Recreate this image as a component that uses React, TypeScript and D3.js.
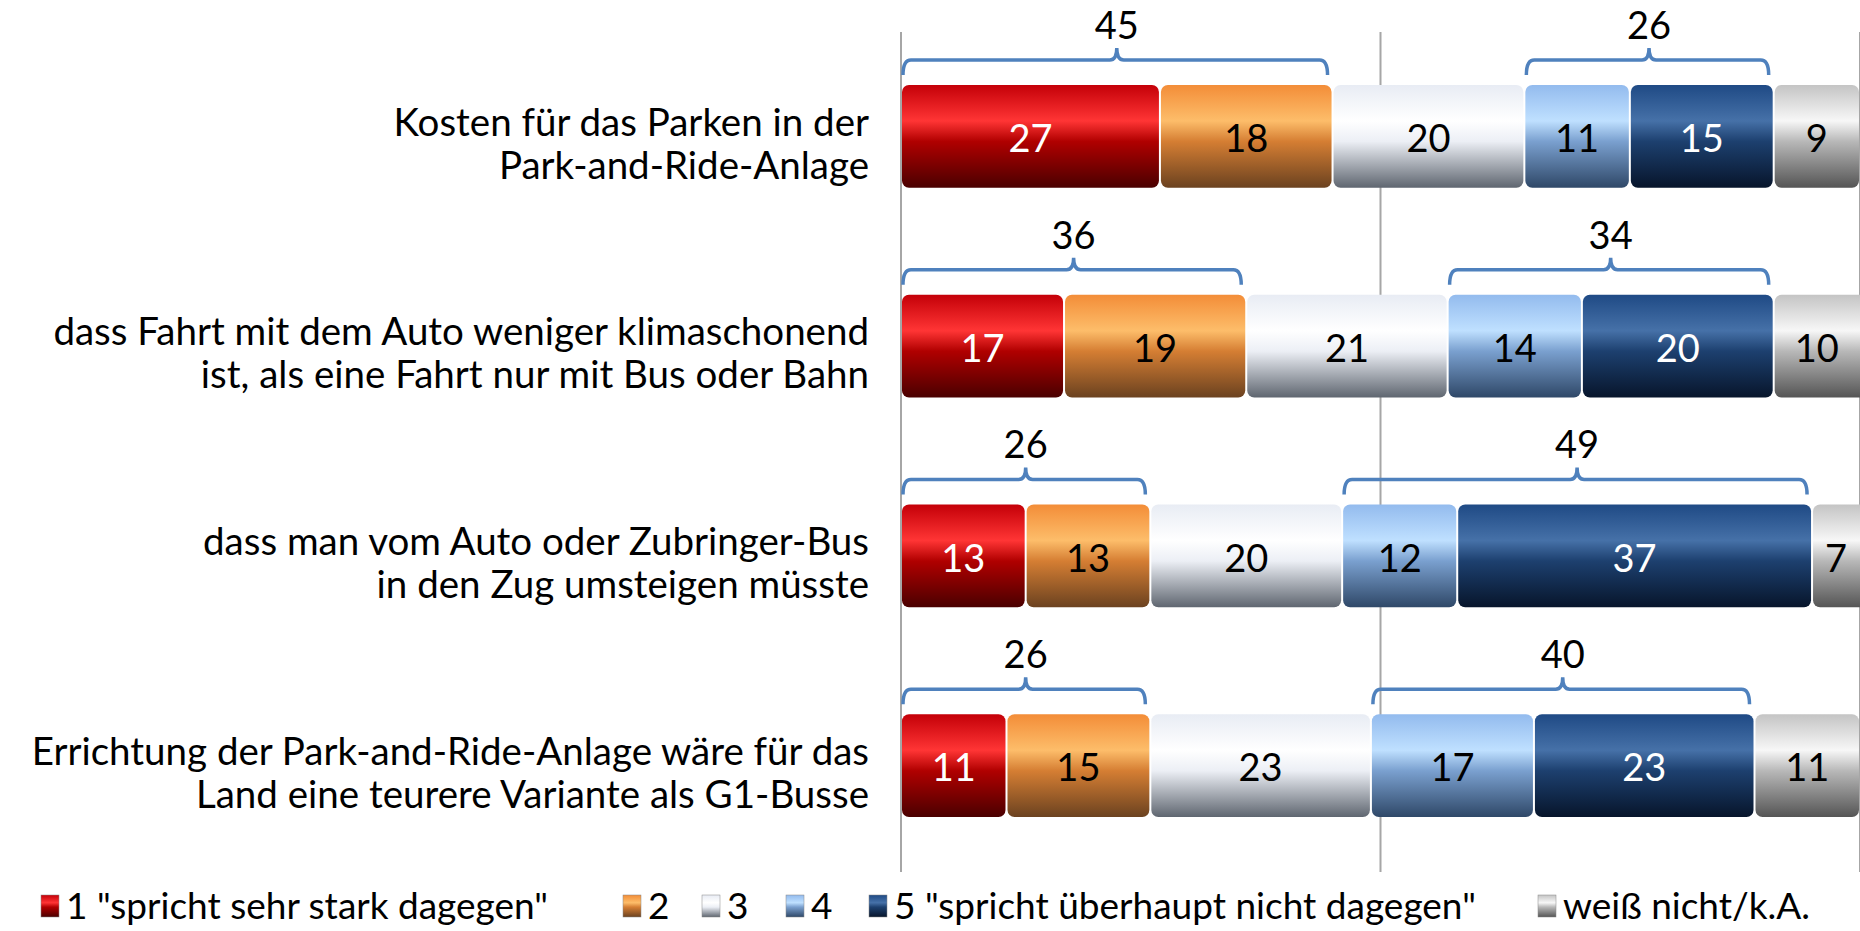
import React, { useEffect, useRef } from 'react';
import * as d3 from 'd3';

// categories (two lines each)
const categories: string[][] = [
  ['Kosten für das Parken in der', 'Park-and-Ride-Anlage'],
  ['dass Fahrt mit dem Auto weniger klimaschonend', 'ist, als eine Fahrt nur mit Bus oder Bahn'],
  ['dass man vom Auto oder Zubringer-Bus', 'in den Zug umsteigen müsste'],
  ['Errichtung der Park-and-Ride-Anlage wäre für das', 'Land eine teurere Variante als G1-Busse'],
];

const seriesNames = ['1 "spricht sehr stark dagegen"', '2', '3', '4', '5 "spricht überhaupt nicht dagegen"', 'weiß nicht/k.A.'];

// values per category, in series order
const s1 = [27, 17, 13, 11];
const s2 = [18, 19, 13, 15];
const s3 = [20, 21, 20, 23];
const s4 = [11, 14, 12, 17];
const s5 = [15, 20, 37, 23];
const s6 = [9, 10, 7, 11];

const gridTicks = [0, 50, 100];

// gradient stops per series: [top, highlight, mid, bottom]
const gradients = [
  ['#c40008', '#ff3535', '#b00000', '#4a0000'],
  ['#f38d38', '#fdbd6a', '#d57e33', '#6b4220'],
  ['#e8ecf4', '#ffffff', '#eceff5', '#5f6670'],
  ['#93bbee', '#bfe0ff', '#7aa0cf', '#2f4868'],
  ['#1f4a85', '#4671a8', '#1d406f', '#07152b'],
  ['#c4c4c4', '#f7f7f7', '#b8b8b8', '#555555'],
];
const labelColors = ['#ffffff', '#000000', '#000000', '#000000', '#ffffff', '#000000'];

const W = 1860;
const H = 931;

function App() {
  const ref = useRef<SVGSVGElement>(null);

  useEffect(() => {
    document.body.style.margin = '0';
    const svg = d3.select(ref.current);
    svg.selectAll('*').remove();

    const font = 'Lato, "Open Sans", sans-serif';
    const series = [s1, s2, s3, s4, s5, s6];
    const rows = categories.map((_, i) => series.map(s => s[i]));

    const x = d3.scaleLinear().domain([0, 100]).range([901, 1860]);
    const y = d3.scaleBand<number>()
      .domain(d3.range(categories.length))
      .range([-20, 922])
      .paddingInner(0.51)
      .paddingOuter(0.5);

    const defs = svg.append('defs');
    gradients.forEach((g, i) => {
      const lg = defs.append('linearGradient')
        .attr('id', `grad${i}`)
        .attr('x1', 0).attr('y1', 0).attr('x2', 0).attr('y2', 1);
      lg.append('stop').attr('offset', '0%').attr('stop-color', g[0]);
      lg.append('stop').attr('offset', '35%').attr('stop-color', g[1]);
      lg.append('stop').attr('offset', '55%').attr('stop-color', g[2]);
      lg.append('stop').attr('offset', '100%').attr('stop-color', g[3]);
    });
    defs.append('clipPath').attr('id', 'plotclip')
      .append('rect').attr('x', 0).attr('y', 0).attr('width', W).attr('height', H);

    svg.append('rect').attr('width', W).attr('height', H).attr('fill', '#ffffff');

    // gridlines
    svg.append('g').selectAll('line')
      .data(gridTicks)
      .enter().append('line')
      .attr('x1', d => x(d)).attr('x2', d => x(d))
      .attr('y1', 32).attr('y2', 872)
      .attr('stroke', '#a6a6a6')
      .attr('stroke-width', 2);

    const bw = y.bandwidth();

    rows.forEach((vals, i) => {
      const top = y(i)!;
      const g = svg.append('g').attr('clip-path', 'url(#plotclip)');
      let acc = 0;
      const segs = vals.map((v, k) => {
        const s = { k, v, x0: acc, x1: acc + v };
        acc += v;
        return s;
      });

      g.selectAll('rect')
        .data(segs)
        .enter().append('rect')
        .attr('x', d => x(d.x0) + 1)
        .attr('y', top)
        .attr('width', d => Math.max(0, x(d.x1) - x(d.x0) - 2))
        .attr('height', bw)
        .attr('rx', 7)
        .attr('fill', d => `url(#grad${d.k})`);

      g.selectAll('text')
        .data(segs)
        .enter().append('text')
        .attr('x', d => (x(d.x0) + Math.min(x(d.x1), W)) / 2)
        .attr('y', top + bw / 2 + 2)
        .attr('dy', '0.36em')
        .attr('text-anchor', 'middle')
        .attr('font-family', font)
        .attr('font-size', 38)
        .attr('fill', d => labelColors[d.k])
        .text(d => d.v);

      // brackets: series 1+2 and 4+5
      const groups = [
        { a: segs[0].x0, b: segs[1].x1, total: vals[0] + vals[1] },
        { a: segs[3].x0, b: segs[4].x1, total: vals[3] + vals[4] },
      ];
      groups.forEach(gr => {
        const xa = x(gr.a) + 2;
        const xb = x(gr.b) - 5;
        const xm = (x(gr.a) + x(gr.b)) / 2;
        const yb = top - 25;
        const p = d3.path();
        p.moveTo(xa, yb + 15);
        p.quadraticCurveTo(xa, yb, xa + 8, yb);
        p.lineTo(xm - 7, yb);
        p.quadraticCurveTo(xm, yb, xm, yb - 12);
        p.quadraticCurveTo(xm, yb, xm + 7, yb);
        p.lineTo(xb - 8, yb);
        p.quadraticCurveTo(xb, yb, xb, yb + 15);
        svg.append('path')
          .attr('d', p.toString())
          .attr('fill', 'none')
          .attr('stroke', '#4f81bd')
          .attr('stroke-width', 3.5);
        svg.append('text')
          .attr('x', xm)
          .attr('y', top - 46)
          .attr('text-anchor', 'middle')
          .attr('font-family', font)
          .attr('font-size', 38)
          .attr('fill', '#000')
          .text(gr.total);
      });

      // category label
      const cy = top + bw / 2 + 7;
      const lines = categories[i];
      svg.append('text')
        .attr('text-anchor', 'end')
        .attr('font-family', font)
        .attr('font-size', 38.5)
        .attr('fill', '#000')
        .selectAll('tspan')
        .data(lines)
        .enter().append('tspan')
        .attr('x', 869)
        .attr('y', (_, j) => cy + (j - (lines.length - 1) / 2) * 43)
        .attr('dy', '0.36em')
        .text(d => d);
    });

    // legend
    const legendX = [41, 623, 702, 786, 869, 1538];
    const legY = 906;
    const leg = svg.append('g');
    seriesNames.forEach((name, k) => {
      leg.append('rect')
        .attr('x', legendX[k])
        .attr('y', legY - 11)
        .attr('width', 18)
        .attr('height', 22)
        .attr('fill', `url(#grad${k})`)
        .attr('stroke', '#888')
        .attr('stroke-width', 0.5);
      leg.append('text')
        .attr('x', legendX[k] + 25)
        .attr('y', legY)
        .attr('dy', '0.36em')
        .attr('font-family', font)
        .attr('font-size', 37)
        .attr('fill', '#000')
        .text(name);
    });
  }, []);

  return <svg ref={ref} width={W} height={H} style={{ display: 'block' }} />;
}

export default App;
